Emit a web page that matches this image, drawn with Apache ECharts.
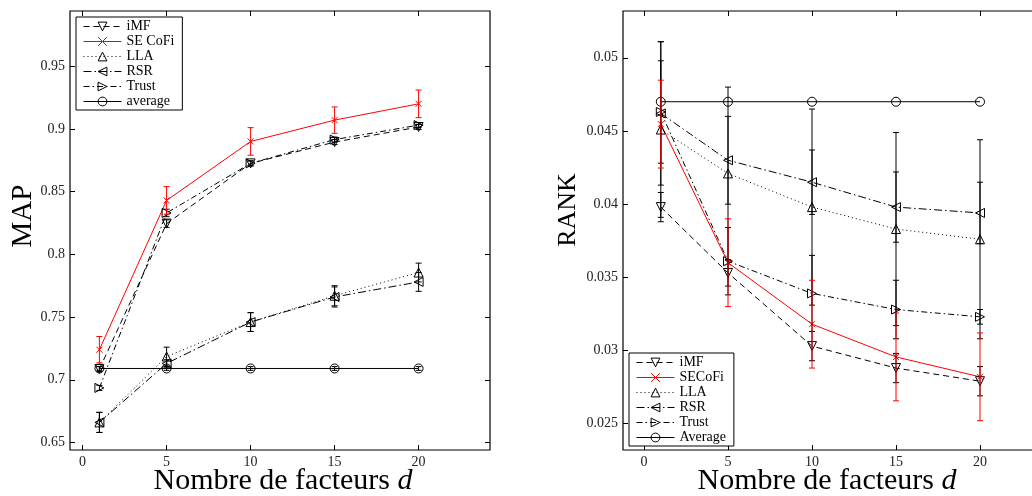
<!DOCTYPE html>
<html><head><meta charset="utf-8">
<script src="https://cdn.jsdelivr.net/npm/echarts@6/dist/echarts.min.js"></script>
<style>html,body{margin:0;padding:0;overflow:hidden;background:#fff}#c{width:1060px;height:496px}</style>
</head><body><div id="c"></div><script>
// ---- data ----
const factors = [1, 5, 10, 15, 20];
const xTicks = [0, 5, 10, 15, 20];
const mapTicks = [0.65, 0.7, 0.75, 0.8, 0.85, 0.9, 0.95];
const rankTicks = [0.025, 0.03, 0.035, 0.04, 0.045, 0.05];
const mapNames = ['iMF', 'SE CoFi', 'LLA', 'RSR', 'Trust', 'average'];
const rankNames = ['iMF', 'SECoFi', 'LLA', 'RSR', 'Trust', 'Average'];

// MAP (left)
const mapIMF = [0.7085, 0.8245, 0.8725, 0.8895, 0.9015];
const mapIMFErr = [0.002, 0.003, 0.002, 0.002, 0.002];
const mapSECoFi = [0.724, 0.843, 0.890, 0.907, 0.920];
const mapSECoFiErr = [0.0105, 0.011, 0.011, 0.0105, 0.011];
const mapLLA = [0.666, 0.7185, 0.746, 0.767, 0.7855];
const mapLLAErr = [0.008, 0.0075, 0.0075, 0.008, 0.0075];
const mapRSR = [0.666, 0.713, 0.746, 0.766, 0.778];
const mapRSRErr = [0.008, 0.003, 0.0075, 0.008, 0.0075];
const mapTrust = [0.6935, 0.833, 0.8725, 0.8915, 0.903];
const mapTrustErr = [0.002, 0.003, 0.002, 0.002, 0.002];
const mapAverage = [0.709, 0.709, 0.709, 0.709, 0.709];
const mapAverageErr = [0.0015, 0.0015, 0.0015, 0.0015, 0.0015];

// RANK (right)
const rankIMF = [0.0398, 0.0353, 0.0303, 0.0288, 0.0279];
const rankIMFErr = [0.0010, 0.0009, 0.0010, 0.0010, 0.0010];
const rankSECoFi = [0.04547, 0.0360, 0.0318, 0.02956, 0.0282];
const rankSECoFiErr = [0.003, 0.003, 0.003, 0.003, 0.003];
const rankLLA = [0.0451, 0.0421, 0.0398, 0.0383, 0.0376];
const rankLLAErr = [0.006, 0.0059, 0.0067, 0.0066, 0.0068];
const rankRSR = [0.0462, 0.0430, 0.0415, 0.0398, 0.0394];
const rankRSRErr = [0.0049, 0.003, 0.0022, 0.0024, 0.0021];
const rankTrust = [0.0463, 0.0361, 0.0339, 0.0328, 0.0323];
const rankTrustErr = [0.0035, 0.0023, 0.0026, 0.0020, 0.0005];
const rankAverage = [0.047, 0.047, 0.047, 0.047, 0.047];

// ---- styles ----
const FONT = 'Liberation Serif';
const BLACK = '#000';
const RED = '#ff0000';
const CLEAR = 'rgba(255,255,255,0)';
const SYM = {
  down: 'path://M0,0L10,0L5,9Z',
  up: 'path://M5,0L10,9L0,9Z',
  left: 'path://M0,5L9,0L9,10Z',
  right: 'path://M0,0L9,5L0,10Z',
  cross: 'path://M0,0L10,10M10,0L0,10',
  circle: 'circle'
};
const styleDefs = {
  iMF: { sym: SYM.down, color: BLACK, dash: [6, 4], size: 9 },
  SECoFi: { sym: SYM.cross, color: RED, dash: 'solid', size: 6 },
  LLA: { sym: SYM.up, color: BLACK, dash: [1, 3], size: 9 },
  RSR: { sym: SYM.left, color: BLACK, dash: [8, 3, 1.5, 3], size: 9 },
  Trust: { sym: SYM.right, color: BLACK, dash: [6, 3, 1.5, 3], size: 9 },
  Average: { sym: SYM.circle, color: BLACK, dash: 'solid', size: 9 }
};
const keyOrder = ['iMF', 'SECoFi', 'LLA', 'RSR', 'Trust', 'Average'];
const PREFIX = ['map|', 'rank|'];
const sid = (gi, name) => PREFIX[gi] + name;

function lineSeries(gi, idx, vals) {
  const key = keyOrder[idx];
  const s = styleDefs[key];
  const names = gi === 0 ? mapNames : rankNames;
  return {
    type: 'line', name: sid(gi, names[idx]), xAxisIndex: gi * 2, yAxisIndex: gi * 2,
    data: factors.map((f, i) => [f, vals[i]]),
    symbol: s.sym, symbolSize: s.size, showSymbol: true, z: 3,
    color: s.color,
    lineStyle: { color: s.color, width: 1, type: s.dash },
    itemStyle: { color: CLEAR, borderColor: s.color, borderWidth: 1 },
    emphasis: { disabled: true }, animation: false, silent: true
  };
}
function errSeries(idx, vals, errs, gi) {
  const color = styleDefs[keyOrder[idx]].color;
  return {
    type: 'custom', xAxisIndex: gi * 2, yAxisIndex: gi * 2, z: 4, animation: false, silent: true,
    data: factors.map((f, i) => [f, vals[i] - errs[i], vals[i] + errs[i]]),
    encode: { x: 0, y: [1, 2] },
    renderItem: function (params, api) {
      const x = api.value(0);
      const p1 = api.coord([x, api.value(1)]);
      const p2 = api.coord([x, api.value(2)]);
      const w = 3;
      const st = { stroke: color, lineWidth: 1 };
      return { type: 'group', children: [
        { type: 'line', shape: { x1: p1[0], y1: p1[1], x2: p2[0], y2: p2[1] }, style: st },
        { type: 'line', shape: { x1: p1[0] - w, y1: p1[1], x2: p1[0] + w, y2: p1[1] }, style: st },
        { type: 'line', shape: { x1: p2[0] - w, y1: p2[1], x2: p2[0] + w, y2: p2[1] }, style: st }
      ]};
    }
  };
}

function xAx(gi, pos, min, max) {
  return {
    type: 'value', gridIndex: gi, position: pos, min: min, max: max,
    splitLine: { show: false }, axisLine: { show: false, onZero: false },
    axisTick: { show: true, inside: true, length: 5, customValues: xTicks, lineStyle: { color: BLACK } },
    axisLabel: { show: pos === 'bottom', customValues: xTicks, margin: 5, color: '#222', fontFamily: FONT, fontSize: 14 }
  };
}
function yAx(gi, pos, min, max, ticks) {
  return {
    type: 'value', gridIndex: gi, position: pos, min: min, max: max,
    splitLine: { show: false }, axisLine: { show: false, onZero: false },
    axisTick: { show: true, inside: true, length: 5, customValues: ticks, lineStyle: { color: BLACK } },
    axisLabel: { show: pos === 'left', customValues: ticks, margin: 5, color: '#222', fontFamily: FONT, fontSize: 14,
      formatter: v => String(v) }
  };
}
function legend(gi, names, left, top) {
  return {
    orient: 'vertical', left: left, top: top,
    data: names.map((n, i) => {
      const s = styleDefs[keyOrder[i]];
      return {
        name: sid(gi, n),
        itemStyle: { color: CLEAR, borderColor: s.color, borderWidth: 1 },
        lineStyle: { color: s.color, width: 1, type: s.dash }
      };
    }),
    formatter: name => name.slice(PREFIX[gi].length),
    itemWidth: 38, itemHeight: 11, itemGap: 0,
    padding: [2, 8, 1, 7],
    borderColor: BLACK, borderWidth: 1, backgroundColor: '#fff',
    textStyle: { fontFamily: FONT, fontSize: 14, color: BLACK, lineHeight: 15 },
    selectedMode: false
  };
}

const chart = echarts.init(document.getElementById('c'), null, { renderer: 'canvas' });
chart.setOption({
  animation: false,
  backgroundColor: '#fff',
  grid: [
    { left: 70, top: 11, width: 420, height: 439, show: true, borderColor: BLACK, borderWidth: 1.2, backgroundColor: 'transparent' },
    { left: 623, top: 11, width: 420, height: 439, show: true, borderColor: BLACK, borderWidth: 1.2, backgroundColor: 'transparent' }
  ],
  xAxis: [xAx(0, 'bottom', -0.75, 24.25), xAx(0, 'top', -0.75, 24.25), xAx(1, 'bottom', -1.25, 23.75), xAx(1, 'top', -1.25, 23.75)],
  yAxis: [yAx(0, 'left', 0.644, 0.994, mapTicks), yAx(0, 'right', 0.644, 0.994, mapTicks),
          yAx(1, 'left', 0.0232, 0.0532, rankTicks), yAx(1, 'right', 0.0232, 0.0532, rankTicks)],
  legend: [
    legend(0, mapNames, 76, 17),
    legend(1, rankNames, 629, 353)
  ],
  graphic: [
    { type: 'text', x: 23, y: 216, rotation: Math.PI / 2, style: { text: 'MAP', font: '29px "Liberation Serif"', fill: BLACK, align: 'center', verticalAlign: 'middle' } },
    { type: 'text', x: 283, y: 481, style: { text: 'Nombre de facteurs {i|d}', font: '30px "Liberation Serif"', fill: BLACK, align: 'center', verticalAlign: 'middle',
        rich: { i: { fontStyle: 'italic', fontFamily: FONT, fontSize: 30 } } } },
    { type: 'text', x: 568, y: 210, rotation: Math.PI / 2, style: { text: 'RANK', font: '26px "Liberation Serif"', fill: BLACK, align: 'center', verticalAlign: 'middle' } },
    { type: 'text', x: 827, y: 481, style: { text: 'Nombre de facteurs {i|d}', font: '30px "Liberation Serif"', fill: BLACK, align: 'center', verticalAlign: 'middle',
        rich: { i: { fontStyle: 'italic', fontFamily: FONT, fontSize: 30 } } } }
  ],
  series: [
    lineSeries(0, 5, mapAverage),
    lineSeries(0, 2, mapLLA),
    lineSeries(0, 3, mapRSR),
    lineSeries(0, 4, mapTrust),
    lineSeries(0, 0, mapIMF),
    lineSeries(0, 1, mapSECoFi),
    errSeries(5, mapAverage, mapAverageErr, 0),
    errSeries(2, mapLLA, mapLLAErr, 0),
    errSeries(3, mapRSR, mapRSRErr, 0),
    errSeries(4, mapTrust, mapTrustErr, 0),
    errSeries(0, mapIMF, mapIMFErr, 0),
    errSeries(1, mapSECoFi, mapSECoFiErr, 0),

    lineSeries(1, 5, rankAverage),
    lineSeries(1, 2, rankLLA),
    lineSeries(1, 3, rankRSR),
    lineSeries(1, 4, rankTrust),
    lineSeries(1, 0, rankIMF),
    lineSeries(1, 1, rankSECoFi),
    errSeries(2, rankLLA, rankLLAErr, 1),
    errSeries(3, rankRSR, rankRSRErr, 1),
    errSeries(4, rankTrust, rankTrustErr, 1),
    errSeries(0, rankIMF, rankIMFErr, 1),
    errSeries(1, rankSECoFi, rankSECoFiErr, 1)
  ]
});
</script></body></html>
